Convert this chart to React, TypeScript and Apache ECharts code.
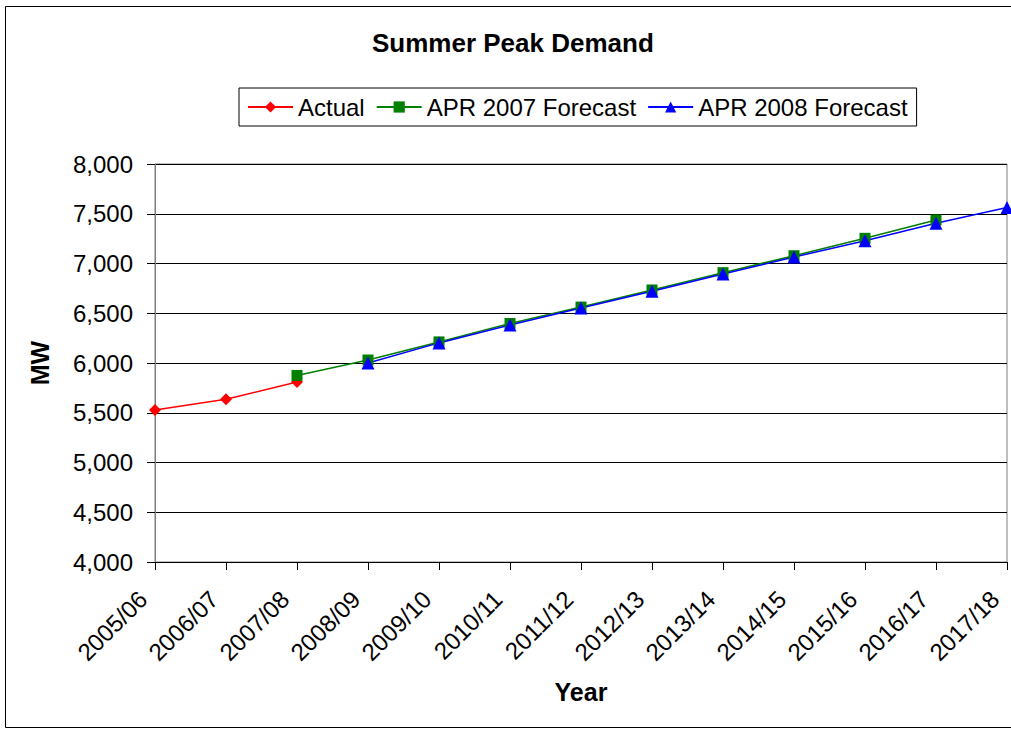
import React, { useEffect, useRef } from "react";
import * as echarts from "echarts";

const categories = [
  "2005/06", "2006/07", "2007/08", "2008/09", "2009/10", "2010/11", "2011/12",
  "2012/13", "2013/14", "2014/15", "2015/16", "2016/17", "2017/18",
];
const actual = [5528, 5635, 5810, null, null, null, null, null, null, null, null, null, null];
const apr2007 = [null, null, 5875, 6030, 6212, 6397, 6562, 6734, 6908, 7078, 7253, 7437, null];
const apr2008 = [null, null, null, 6000, 6202, 6382, 6552, 6722, 6895, 7065, 7228, 7405, 7562];
const yMin = 4000;
const yMax = 8000;
const yStep = 500;

const FONT = "Liberation Sans, Arial, sans-serif";

export default function App() {
  const ref = useRef<HTMLDivElement>(null);
  useEffect(() => {
    if (!ref.current) return;
    const chart = echarts.init(ref.current, null, { renderer: "svg" });
    const mkSeries = (name: string, data: (number | null)[], color: string, symbol: string, size: number) => ({
      name,
      type: "line",
      data,
      symbol,
      symbolSize: size,
      showAllSymbol: true,
      lineStyle: { color, width: 1.5 },
      itemStyle: { color },
      emphasis: { disabled: true },
    });
    chart.setOption({
      animation: false,
      backgroundColor: "#ffffff",
      textStyle: { fontFamily: FONT },
      title: {
        text: "Summer Peak Demand",
        left: 372,
        top: 30,
        padding: 0,
        textStyle: { fontFamily: FONT, fontSize: 26, fontWeight: "bold", color: "#000" },
      },
      legend: {
        left: 239,
        top: 88,
        padding: [7, 9, 7, 8],
        borderColor: "#000",
        borderWidth: 1,
        itemWidth: 45,
        itemHeight: 14,
        itemGap: 11,
        textStyle: { fontFamily: FONT, fontSize: 24, color: "#000" },
        data: ["Actual", "APR 2007 Forecast", "APR 2008 Forecast"],
      },
      grid: {
        left: 155,
        right: 4,
        top: 164,
        bottom: 167,
        show: true,
        borderColor: "#808080",
        borderWidth: 1,
        containLabel: false,
      },
      xAxis: {
        type: "category",
        data: categories,
        boundaryGap: false,
        axisLine: { lineStyle: { color: "#000", width: 1 } },
        axisTick: { show: true, length: 8, alignWithLabel: true, lineStyle: { color: "#000" } },
        axisLabel: {
          interval: 0,
          rotate: 45,
          margin: 21,
          padding: [0, 17, 0, 0],
          fontFamily: FONT,
          fontSize: 24,
          color: "#000",
        },
        splitLine: { show: false },
      },
      yAxis: {
        type: "value",
        min: yMin,
        max: yMax,
        interval: yStep,
        axisLine: { show: true, lineStyle: { color: "#808080", width: 1 } },
        axisTick: { show: true, length: 8, lineStyle: { color: "#000" } },
        axisLabel: {
          margin: 22,
          fontFamily: FONT,
          fontSize: 24,
          color: "#000",
          formatter: (v: number) => v.toLocaleString("en-US"),
        },
        splitLine: { show: true, lineStyle: { color: "#000", width: 1 } },
      },
      graphic: [
        {
          type: "rect",
          silent: true,
          shape: { x: 5.5, y: 6.5, width: 1010, height: 721 },
          style: { fill: "none", stroke: "#000", lineWidth: 1 },
          z: -1,
        },
        {
          type: "text",
          x: 40,
          y: 363,
          rotation: Math.PI / 2,
          style: {
            text: "MW",
            fontFamily: FONT,
            fontSize: 25,
            fontWeight: "bold",
            fill: "#000",
            align: "center",
            verticalAlign: "middle",
          },
        },
        {
          type: "text",
          x: 581,
          y: 692,
          style: {
            text: "Year",
            fontFamily: FONT,
            fontSize: 25,
            fontWeight: "bold",
            fill: "#000",
            align: "center",
            verticalAlign: "middle",
          },
        },
      ],
      series: [
        mkSeries("Actual", actual, "#ff0000", "diamond", 12),
        mkSeries("APR 2007 Forecast", apr2007, "#008000", "rect", 11),
        mkSeries("APR 2008 Forecast", apr2008, "#0000ff", "triangle", 13),
      ],
    });
    return () => chart.dispose();
  }, []);
  return (
    <div
      ref={ref}
      style={{ position: "fixed", left: 0, top: 0, width: 1011, height: 729, background: "#fff" }}
    />
  );
}
